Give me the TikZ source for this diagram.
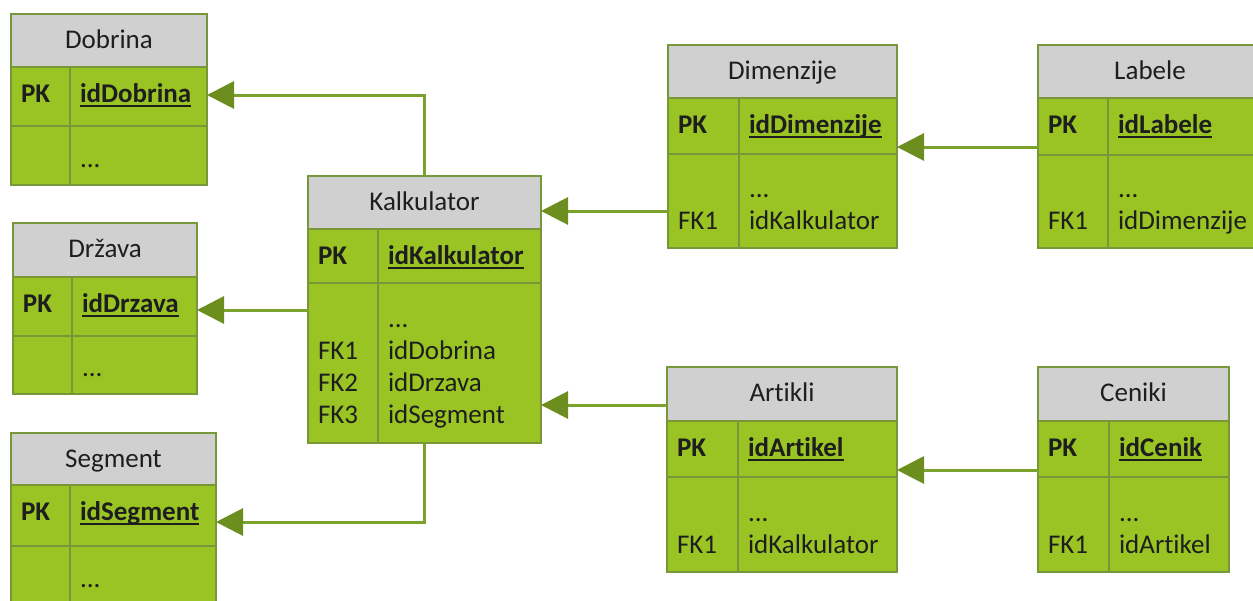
\documentclass[tikz,border=0pt]{standalone}
\usepackage{fontspec}
\setmainfont{Carlito}[Ligatures=CommonOff]
\usetikzlibrary{arrows.meta,fit}

\definecolor{bodygreen}{HTML}{99C424}
\definecolor{framegreen}{HTML}{77973A}
\definecolor{headgray}{HTML}{D0D0D0}
\definecolor{linkgreen}{HTML}{7BA22C}
\definecolor{tipgreen}{HTML}{6B8E1E}
\definecolor{ink}{HTML}{1E1E1E}

\tikzset{
  tbl/.style={inner sep=0pt, outer sep=0pt, fill=bodygreen},
  hdr/.style={inner sep=0pt, outer sep=0pt, fill=headgray},
  keyrow/.style={inner sep=0pt, outer sep=0pt},
  grid/.style={draw=framegreen, line width=1.6pt},
  frame/.style={draw=framegreen, line width=2pt},
  txt/.style={inner sep=0pt, outer sep=0pt, anchor=base west, text=ink,
              font=\fontsize{27}{32}\selectfont},
  boldtxt/.style={txt, font=\fontsize{27}{32}\selectfont\bfseries},
  ttl/.style={txt, anchor=base},
  rel/.style={draw=linkgreen, line width=3pt,
              -{Triangle[length=27pt,width=27pt,color=tipgreen]}},
}

% underlined primary key with a fixed rule position
\newcommand\ulkey[1]{\setbox0=\hbox{#1}\rlap{\rule[-5pt]{\wd0}{2pt}}\box0}

% #1 name, #2 left, #3 top, #4 right, #5 bottom, #6 divider x,
% #7 header bottom, #8 key-row bottom, #9 title
\newcommand\ertable[9]{%
  \node[tbl, fit={(#2,#3) (#4,#5)}] (#1) {};
  \node[hdr, fit={(#2,#3) (#4,#7)}] (#1-h) {};
  \node[keyrow, fit={(#2,#7) (#4,#8)}] (#1-k) {};
  \draw[grid] (#1-k.north west) -- (#1-k.north east)
              (#1-k.south west) -- (#1-k.south east)
              (#6,#7) -- (#6,#5);
  \draw[frame] (#1.north west) rectangle (#1.south east);
  \node[ttl] (#1-t) at ([yshift=-34pt]#1-h.north) {#9};
}

% #1 name, #2 left, #3 divider x, #4 header bottom, #5 key field
\newcommand\erkey[5]{%
  \node[boldtxt] (#1-pk) at ({#2+10},{#4+35}) {PK};
  \node[boldtxt] (#1-id) at ({#3+10},{#4+35}) {\ulkey{#5}};
}

% #1 name, #2 left, #3 divider x, #4 baseline, #5 key label, #6 field
\newcommand\errow[6]{%
  \node[txt] (#1-a) at ({#2+10},#4) {#5};
  \node[txt] (#1-b) at ({#3+10},#4) {#6};
}

\begin{document}
\begin{tikzpicture}[x=1pt, y=-1pt]
  \useasboundingbox (0,0) rectangle (1253,600);
  \clip (0,0) rectangle (1253,600);

  % left column
  \ertable{dob}{11}{14}{207}{185}{70}{67}{126}{Dobrina}
  \erkey{dob}{11}{70}{67}{idDobrina}
  \errow{dob-r1}{11}{70}{167}{}{...}

  \ertable{drz}{13}{223}{197}{394}{72}{277}{336}{Država}
  \erkey{drz}{13}{72}{277}{idDrzava}
  \errow{drz-r1}{13}{72}{376}{}{...}

  \ertable{seg}{11}{433}{216}{606}{70}{485}{546}{Segment}
  \erkey{seg}{11}{70}{485}{idSegment}
  \errow{seg-r1}{11}{70}{587}{}{...}

  % centre
  \ertable{kal}{308}{176}{541}{443}{378}{229}{283}{Kalkulator}
  \erkey{kal}{308}{378}{229}{idKalkulator}
  \errow{kal-r1}{308}{378}{327}{}{...}
  \errow{kal-r2}{308}{378}{359}{FK1}{idDobrina}
  \errow{kal-r3}{308}{378}{391}{FK2}{idDrzava}
  \errow{kal-r4}{308}{378}{423}{FK3}{idSegment}

  % right side
  \ertable{dim}{668}{45}{897}{248}{739}{98}{154}{Dimenzije}
  \erkey{dim}{668}{739}{98}{idDimenzije}
  \errow{dim-r1}{668}{739}{197}{}{...}
  \errow{dim-r2}{668}{739}{229}{FK1}{idKalkulator}

  \ertable{lab}{1038}{45}{1262}{248}{1108}{98}{155}{Labele}
  \erkey{lab}{1038}{1108}{98}{idLabele}
  \errow{lab-r1}{1038}{1108}{197}{}{...}
  \errow{lab-r2}{1038}{1108}{229}{FK1}{idDimenzije}

  \ertable{art}{667}{367}{897}{572}{738}{421}{477}{Artikli}
  \erkey{art}{667}{738}{421}{idArtikel}
  \errow{art-r1}{667}{738}{521}{}{...}
  \errow{art-r2}{667}{738}{553}{FK1}{idKalkulator}

  \ertable{cen}{1038}{367}{1229}{572}{1109}{421}{477}{Ceniki}
  \erkey{cen}{1038}{1109}{421}{idCenik}
  \errow{cen-r1}{1038}{1109}{521}{}{...}
  \errow{cen-r2}{1038}{1109}{553}{FK1}{idArtikel}

  % connector levels
  \coordinate (lv-dob) at (0,95);
  \coordinate (lv-drz) at (0,310);
  \coordinate (lv-seg) at (0,522);
  \coordinate (lv-dim) at (0,211);
  \coordinate (lv-art) at (0,405);
  \coordinate (lv-lab) at (0,147);
  \coordinate (lv-cen) at (0,470);

  % relationships
  \draw[rel] (kal-h.north) |- (dob.east |- lv-dob);
  \draw[rel] (kal.west |- lv-drz) -- (drz.east |- lv-drz);
  \draw[rel] (kal.south) |- (seg.east |- lv-seg);
  \draw[rel] (dim.west |- lv-dim) -- (kal.east |- lv-dim);
  \draw[rel] (art.west |- lv-art) -- (kal.east |- lv-art);
  \draw[rel] (lab.west |- lv-lab) -- (dim.east |- lv-lab);
  \draw[rel] (cen.west |- lv-cen) -- (art.east |- lv-cen);
\end{tikzpicture}
\end{document}
